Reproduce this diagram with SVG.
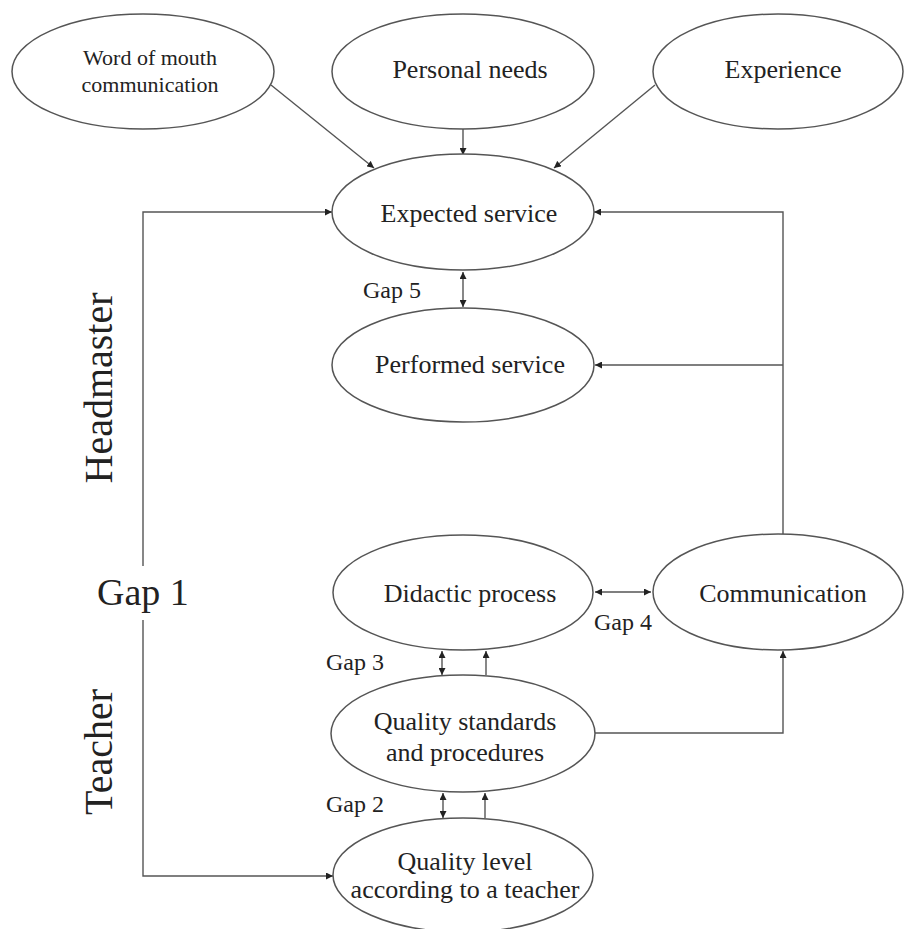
<svg xmlns="http://www.w3.org/2000/svg" width="905" height="929" viewBox="0 0 905 929">
<style>
.n{fill:#fff;stroke:#555;stroke-width:1.5}
.t{font-family:"Liberation Serif","Times New Roman",serif;fill:#222;text-anchor:middle}
.c{fill:none;stroke:#555;stroke-width:1.4}
.g{font-family:"Liberation Serif","Times New Roman",serif;fill:#222}
</style>
<defs>
<marker id="ah" viewBox="0 0 10 10" refX="10" refY="5" markerWidth="7" markerHeight="7" markerUnits="userSpaceOnUse" orient="auto-start-reverse">
<path d="M0,0 L10,5 L0,10 z" fill="#222"/>
</marker>
</defs>
<rect width="905" height="929" fill="#fff"/>
<g id="connectors">
<line class="c" x1="271" y1="85" x2="374" y2="168" marker-end="url(#ah)"/>
<line class="c" x1="463" y1="129" x2="463" y2="155" marker-end="url(#ah)"/>
<line class="c" x1="655" y1="85" x2="554" y2="168" marker-end="url(#ah)"/>
<polyline class="c" points="143,566 143,212 332,212" marker-end="url(#ah)"/>
<polyline class="c" points="143,620 143,876 333,876" marker-end="url(#ah)"/>
<polyline class="c" points="783,534 783,212 594,212" marker-end="url(#ah)"/>
<line class="c" x1="783" y1="365" x2="595" y2="365" marker-end="url(#ah)"/>
<line class="c" x1="463" y1="272" x2="463" y2="307" marker-start="url(#ah)" marker-end="url(#ah)"/>
<line class="c" x1="595" y1="592" x2="651" y2="592" marker-start="url(#ah)" marker-end="url(#ah)"/>
<line class="c" x1="442" y1="651" x2="442" y2="675" marker-start="url(#ah)" marker-end="url(#ah)"/>
<line class="c" x1="486" y1="675" x2="486" y2="651" marker-end="url(#ah)"/>
<polyline class="c" points="595,733 783,733 783,651" marker-end="url(#ah)"/>
<line class="c" x1="443" y1="793" x2="443" y2="818" marker-start="url(#ah)" marker-end="url(#ah)"/>
<line class="c" x1="485" y1="818" x2="485" y2="793" marker-end="url(#ah)"/>
</g>
<g id="word-of-mouth">
<ellipse class="n" cx="143" cy="71.5" rx="131" ry="57.5"/>
<text class="t" x="150" y="65" font-size="22">Word of mouth</text>
<text class="t" x="150" y="92" font-size="22">communication</text>
</g>
<g id="personal-needs">
<ellipse class="n" cx="463" cy="71.5" rx="131" ry="57.5"/>
<text class="t" x="470" y="78" font-size="26">Personal needs</text>
</g>
<g id="experience">
<ellipse class="n" cx="778" cy="71.5" rx="125" ry="57.5"/>
<text class="t" x="783" y="78" font-size="26">Experience</text>
</g>
<g id="expected-service">
<ellipse class="n" cx="463" cy="212" rx="131" ry="58"/>
<text class="t" x="469" y="222" font-size="26">Expected service</text>
</g>
<g id="performed-service">
<ellipse class="n" cx="463" cy="365" rx="131" ry="57"/>
<text class="t" x="470" y="373" font-size="26">Performed service</text>
</g>
<g id="didactic-process">
<ellipse class="n" cx="463" cy="592.5" rx="130" ry="57.5"/>
<text class="t" x="470" y="602" font-size="26">Didactic process</text>
</g>
<g id="communication">
<ellipse class="n" cx="778" cy="592" rx="125" ry="58"/>
<text class="t" x="783" y="602" font-size="26">Communication</text>
</g>
<g id="quality-standards">
<ellipse class="n" cx="463" cy="733.5" rx="132" ry="58.5"/>
<text class="t" x="465" y="730" font-size="26">Quality standards</text>
<text class="t" x="465" y="761" font-size="26">and procedures</text>
</g>
<g id="quality-level">
<ellipse class="n" cx="463" cy="875" rx="130" ry="57"/>
<text class="t" x="465" y="870" font-size="26">Quality level</text>
<text class="t" x="465" y="898" font-size="26">according to a teacher</text>
</g>
<g id="labels">
<text class="g" x="363" y="298" font-size="24">Gap 5</text>
<text class="g" x="594" y="630" font-size="24">Gap 4</text>
<text class="g" x="326" y="670" font-size="24">Gap 3</text>
<text class="g" x="326" y="812" font-size="24">Gap 2</text>
<text class="g" x="97" y="605" font-size="38">Gap 1</text>
<text class="t" transform="translate(112,388) rotate(-90)" font-size="40">Headmaster</text>
<text class="t" transform="translate(112,752) rotate(-90)" font-size="40">Teacher</text>
</g>
</svg>
